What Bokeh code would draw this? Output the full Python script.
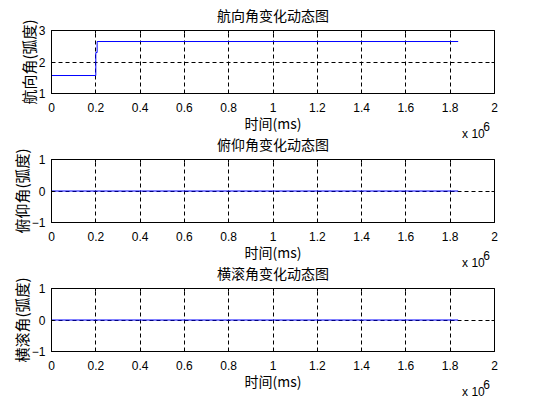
from bokeh.plotting import figure
from bokeh.layouts import column
from bokeh.models import Range1d, FixedTicker, LinearAxis
from bokeh.embed import file_html
from bokeh.resources import INLINE

# ---- data ----
heading_time = [0, 200000, 200000, 206000, 206000, 1836000]
heading = [1.5708, 1.5708, 2.30, 2.30, 2.65, 2.65]
flat_time = [0, 1836000]
pitch = [0, 0]
roll = [0, 0]

x_ticks = [0, 200000, 400000, 600000, 800000, 1000000, 1200000, 1400000, 1600000, 1800000, 2000000]
x_tick_labels = ["0", "0.2", "0.4", "0.6", "0.8", "1", "1.2", "1.4", "1.6", "1.8", "2"]
heading_ticks = [1, 2, 3]
angle_ticks = [-1, 0, 1]

titles = ["航向角变化动态图", "俯仰角变化动态图", "横滚角变化动态图"]
ylabels = ["航向角(弧度)", "俯仰角(弧度)", "横滚角(弧度)"]
xlabel = "时间(ms)"
# axis multiplier "x 10^6", shown at the right end under the x axis
exp_base = "x 10"
exp_power = "6"
exp_base_at = 1905000
exp_power_at = 1964000

CJK = "Noto Sans CJK SC"
LAT = "Liberation Sans"

TOP, FRAME_H, BOTTOM, STEP, FIRST_TOP = 35, 63, 60, 129, 30


def tick_axis(ticks):
    # inward tick marks only (MATLAB box style)
    return LinearAxis(ticker=FixedTicker(ticks=ticks),
                      major_tick_in=3, major_tick_out=0,
                      major_tick_line_color="black",
                      minor_tick_line_color=None,
                      axis_line_color=None,
                      major_label_standoff=0,
                      major_label_text_font_size="0px",
                      major_label_text_color=None)


def make(title, ylabel, xs, ys, yticks, first):
    shift = FIRST_TOP - TOP if first else STEP - (TOP + FRAME_H + BOTTOM)
    p = figure(frame_width=443, frame_height=FRAME_H,
               min_border_left=51, min_border_right=40,
               min_border_top=TOP, min_border_bottom=BOTTOM,
               x_range=Range1d(x_ticks[0], x_ticks[-1]),
               y_range=Range1d(yticks[0], yticks[-1]),
               output_backend="svg", toolbar_location=None,
               title=title, margin=(shift, 0, 0, 0))
    p.background_fill_color = "white"
    p.border_fill_color = None
    p.outline_line_color = "black"
    p.outline_line_width = 1

    p.title.align = "center"
    p.title.text_font = CJK
    p.title.text_font_size = "14px"
    p.title.text_font_style = "normal"
    p.title.text_color = "black"
    p.title.standoff = 12

    for ax in (p.xaxis[0], p.yaxis[0]):
        ax.axis_line_color = "black"
        ax.major_tick_line_color = None
        ax.minor_tick_line_color = None
        ax.major_tick_in = 0
        ax.major_tick_out = 0
        ax.major_label_text_font = LAT
        ax.major_label_text_font_size = "12px"
        ax.major_label_text_color = "black"
        ax.axis_label_text_font = CJK
        ax.axis_label_text_font_size = "14px"
        ax.axis_label_text_font_style = "normal"
        ax.axis_label_text_color = "black"

    p.yaxis.axis_label_text_font_size = "15px"

    # tick labels plus the "x 10^6" multiplier below them (6 raised as exponent)
    p.xaxis.ticker = FixedTicker(ticks=x_ticks + [exp_base_at, exp_power_at])
    overrides = {t: l for t, l in zip(x_ticks, x_tick_labels)}
    overrides[exp_base_at] = "\n\n\n\n" + exp_base
    overrides[exp_power_at] = "\n\n\n" + exp_power
    p.xaxis.major_label_overrides = overrides
    p.xaxis.major_label_text_line_height = 0.47
    p.xaxis.axis_label = xlabel
    p.xaxis.major_label_standoff = 7
    p.xaxis.axis_label_standoff = -31

    p.yaxis.ticker = FixedTicker(ticks=yticks)
    p.yaxis.axis_label = ylabel
    p.yaxis.major_label_standoff = 6
    p.yaxis.axis_label_standoff = -3

    # inward tick marks on all four sides
    p.below = [tick_axis(x_ticks)] + list(p.below)
    p.left = [tick_axis(yticks)] + list(p.left)
    p.above = [tick_axis(x_ticks)] + list(p.above)
    p.right = [tick_axis(yticks)] + list(p.right)

    for g in (p.xgrid[0], p.ygrid[0]):
        g.grid_line_color = "black"
        g.grid_line_dash = "4 3"
        g.grid_line_width = 1
    p.xgrid.ticker = FixedTicker(ticks=x_ticks)
    p.ygrid.ticker = FixedTicker(ticks=yticks)

    p.line(xs, ys, line_color="#0000ff", line_width=1)
    return p


p1 = make(titles[0], ylabels[0], heading_time, heading, heading_ticks, True)
p2 = make(titles[1], ylabels[1], flat_time, pitch, angle_ticks, False)
p3 = make(titles[2], ylabels[2], flat_time, roll, angle_ticks, False)

layout = column(p1, p2, p3, spacing=0)
open("out.html", "w").write(file_html(layout, INLINE))
